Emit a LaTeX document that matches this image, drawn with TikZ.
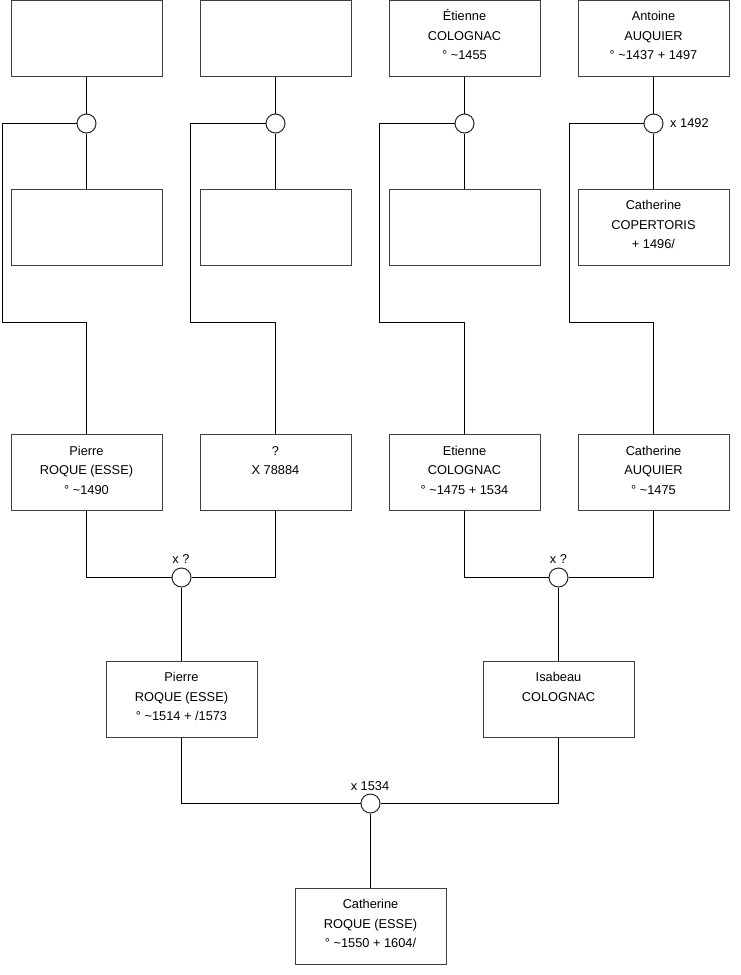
\documentclass[tikz,border=0pt]{standalone}
\usepackage{fontspec}
\setmainfont{Liberation Sans}
\newcommand\bxt[1]{\vbox to 76pt{\hsize=151pt\parindent=0pt\centering\vskip 7.3pt\strut #1\strut\par\vfil}}
\tikzset{
  person/.style={draw=black!75, line width=1pt, fill=white, inner sep=0pt, minimum width=151pt, minimum height=76pt,
    font=\fontsize{12.8}{19.5}\selectfont},
  union/.style={circle, draw=black!85, line width=1pt, fill=white, minimum size=19pt, inner sep=0pt},
  conn/.style={draw=black, line width=1pt},
  lbl/.style={font=\fontsize{12.8}{14}\selectfont, inner sep=0pt}
}
\begin{document}
\begin{tikzpicture}[x=1pt,y=-1pt]
\useasboundingbox[fill=white] (0,0) rectangle (740,975);
% row 1
\node[person] (a1) at (86.5,38) {\bxt{}};
\node[person] (a2) at (275.5,38) {\bxt{}};
\node[person] (a3) at (464.5,38) {\bxt{Étienne\\COLOGNAC\\° \textasciitilde1455}};
\node[person] (a4) at (653.5,38) {\bxt{Antoine\\AUQUIER\\° \textasciitilde1437 + 1497}};
% unions row 1
\node[union] (u1) at (86.5,123.5) {};
\node[union] (u2) at (275.5,123.5) {};
\node[union] (u3) at (464.5,123.5) {};
\node[union] (u4) at (653.5,123.5) {};
\node[lbl, anchor=west] (lu4) at (670,123.5) {x 1492};
% row 2
\node[person] (b1) at (86.5,227) {\bxt{}};
\node[person] (b2) at (275.5,227) {\bxt{}};
\node[person] (b3) at (464.5,227) {\bxt{}};
\node[person] (b4) at (653.5,227) {\bxt{Catherine\\COPERTORIS\\+ 1496/}};
% row 3
\node[person] (c1) at (86.5,472.5) {\bxt{Pierre\\ROQUE (ESSE)\\° \textasciitilde1490}};
\node[person] (c2) at (275.5,472.5) {\bxt{?\\X 78884}};
\node[person] (c3) at (464.5,472.5) {\bxt{Etienne\\COLOGNAC\\° \textasciitilde1475 + 1534}};
\node[person] (c4) at (653.5,472.5) {\bxt{Catherine\\AUQUIER\\° \textasciitilde1475}};
% coordinates for side lines
\coordinate (k1) at (2.5,322.5);
\coordinate (k2) at (190.5,322.5);
\coordinate (k3) at (379.5,322.5);
\coordinate (k4) at (569.5,322.5);
% unions row 3
\node[union] (v1) at (181.5,577.5) {};
\node[union] (v2) at (558.5,577.5) {};
\node[lbl] (lv1) at (181,559) {x ?};
\node[lbl] (lv2) at (558.5,559) {x ?};
% row 4
\node[person] (d1) at (181.5,699) {\bxt{Pierre\\ROQUE (ESSE)\\° \textasciitilde1514 + /1573}};
\node[person] (d2) at (558.5,699) {\bxt{Isabeau\\COLOGNAC}};
% union row 4
\node[union] (w1) at (370.5,803.5) {};
\node[lbl] (lw1) at (370,786) {x 1534};
% row 5
\node[person] (e1) at (370.5,926) {\bxt{Catherine\\ROQUE (ESSE)\\° \textasciitilde1550 + 1604/}};
% connectors
\foreach \i in {1,2,3,4}{
  \draw[conn] (a\i.south) -- (u\i.north);
  \draw[conn] (u\i.south) -- (b\i.north);
  \draw[conn] (u\i.west) -| (k\i) -| (c\i.north);
}
\draw[conn] (c1.south) |- (v1.west);
\draw[conn] (c2.south) |- (v1.east);
\draw[conn] (v1.south) -- (d1.north);
\draw[conn] (c3.south) |- (v2.west);
\draw[conn] (c4.south) |- (v2.east);
\draw[conn] (v2.south) -- (d2.north);
\draw[conn] (d1.south) |- (w1.west);
\draw[conn] (d2.south) |- (w1.east);
\draw[conn] (w1.south) -- (e1.north);
\end{tikzpicture}
\end{document}
